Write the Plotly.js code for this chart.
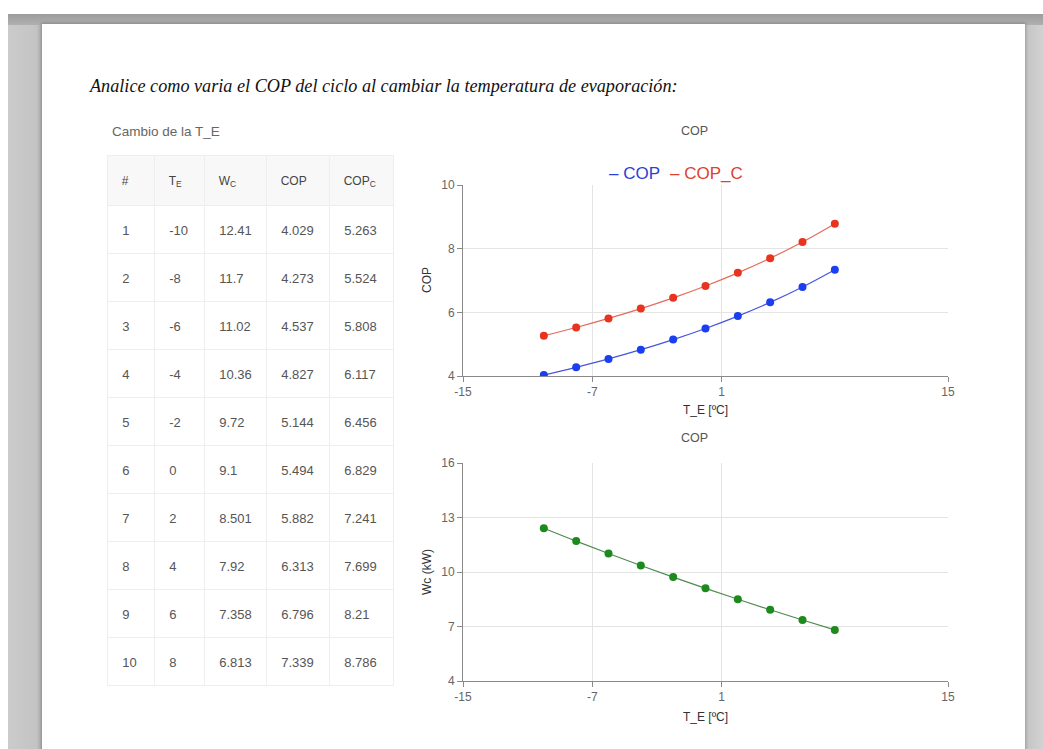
<!DOCTYPE html>
<html>
<head>
<meta charset="utf-8">
<script src="https://cdn.plot.ly/plotly-3.0.1.min.js"></script>
<style>
html,body{margin:0;padding:0;background:#fff;width:1043px;height:749px;overflow:hidden;}
#gray{position:absolute;left:8px;top:14px;width:1035px;height:735px;background:linear-gradient(to right,#cbcbcb 0px,#c4c4c4 28px,#b2b2b2 34px,#c4c4c4 1017px,#d2d2d2 1035px);}
#topband{position:absolute;left:8px;top:14px;width:1035px;height:11px;background:linear-gradient(to bottom,#9c9c9c,#b0b0b0);}
#page{position:absolute;left:42px;top:24px;width:983px;height:725px;background:#fff;box-shadow:0 0 3px 1px rgba(0,0,0,0.22);}
#chart{position:absolute;left:0;top:0;width:1043px;height:749px;}
</style>
</head>
<body>
<div id="gray"></div>
<div id="topband"></div>
<div id="page"></div>
<div id="chart"></div>
<script>
// ---- data ----
const rowNumbers = [1, 2, 3, 4, 5, 6, 7, 8, 9, 10];
const tempEvap = [-10, -8, -6, -4, -2, 0, 2, 4, 6, 8];
const workComp = [12.41, 11.7, 11.02, 10.36, 9.72, 9.1, 8.501, 7.92, 7.358, 6.813];
const copValues = [4.029, 4.273, 4.537, 4.827, 5.144, 5.494, 5.882, 6.313, 6.796, 7.339];
const copCarnot = [5.263, 5.524, 5.808, 6.117, 6.456, 6.829, 7.241, 7.699, 8.21, 8.786];
const tableHeaders = ['#', 'T<sub>E</sub>', 'W<sub>C</sub>', 'COP', 'COP<sub>C</sub>'];
const xTicks = [-15, -7, 1, 15];
const xTickLabels = ['-15', '-7', '1', '15'];
const yTicksCop = [4, 6, 8, 10];
const yTicksWc = [4, 7, 10, 13, 16];

// ---- layout helpers ----
const W = 1043, H = 749;
const px = x => x / W;
const py = y => 1 - y / H;
const FONT = 'Liberation Sans, Arial, sans-serif';
// a tiny blank first line pushes the text down so it sits in the middle of the tall cells
const cellFmt = s => "<span style='font-size:5px'>\u00a0</span><br>\u00a0\u00a0" + String(s);
const headFmt = s => "<span style='font-size:7px'>\u00a0</span><br>\u00a0\u00a0" + String(s);

const tableTrace = {
  type: 'table',
  domain: {x: [px(107), px(393)], y: [py(700), py(155)]},
  columnwidth: [47, 50, 62, 63, 64],
  header: {
    values: tableHeaders.map(headFmt),
    align: 'left',
    height: 50,
    fill: {color: '#f8f8f8'},
    line: {color: '#eeeeee', width: 1},
    font: {family: FONT, size: 12, color: '#444'}
  },
  cells: {
    values: [rowNumbers.map(cellFmt), tempEvap.map(cellFmt), workComp.map(cellFmt), copValues.map(cellFmt), copCarnot.map(cellFmt)],
    align: 'left',
    height: 48,
    fill: {color: '#ffffff'},
    line: {color: '#eeeeee', width: 1},
    font: {family: FONT, size: 13, color: '#555'}
  }
};

const copTrace = {
  type: 'scatter', mode: 'lines+markers', name: 'COP',
  x: tempEvap, y: copValues, xaxis: 'x', yaxis: 'y',
  line: {color: '#4656dc', width: 1.2, shape: 'spline'},
  marker: {color: '#1b3ef0', size: 8}
};
const copCTrace = {
  type: 'scatter', mode: 'lines+markers', name: 'COP_C',
  x: tempEvap, y: copCarnot, xaxis: 'x', yaxis: 'y',
  line: {color: '#e46a5c', width: 1.2, shape: 'spline'},
  marker: {color: '#e8341f', size: 8}
};
const wcTrace = {
  type: 'scatter', mode: 'lines+markers', name: 'Wc',
  x: tempEvap, y: workComp, xaxis: 'x2', yaxis: 'y2',
  line: {color: '#4f8a4f', width: 1.2, shape: 'spline'},
  marker: {color: '#1c8a1c', size: 8}
};

const xCommon = {
  range: [-15, 15], tickmode: 'array', tickvals: xTicks, ticktext: xTickLabels,
  showgrid: true, gridcolor: '#e4e4e4', zeroline: false,
  showline: true, linecolor: '#8a8a8a', linewidth: 1,
  ticks: 'outside', ticklen: 5, tickcolor: '#8a8a8a',
  tickfont: {family: FONT, size: 12, color: '#666'}
};
const yCommon = {
  showgrid: true, gridcolor: '#e4e4e4', zeroline: false,
  showline: true, linecolor: '#8a8a8a', linewidth: 1,
  ticks: 'outside', ticklen: 5, tickcolor: '#8a8a8a',
  tickfont: {family: FONT, size: 12, color: '#666'}
};

const ann = (text, x, y, opts) => Object.assign({
  text: text, x: px(x), y: py(y), xref: 'paper', yref: 'paper',
  showarrow: false, xanchor: 'center', yanchor: 'middle',
  font: {family: FONT, size: 12, color: '#555'}
}, opts || {});

const layout = {
  width: W, height: H, autosize: false,
  margin: {l: 0, r: 0, t: 0, b: 0, pad: 0},
  paper_bgcolor: 'rgba(0,0,0,0)', plot_bgcolor: 'rgba(0,0,0,0)',
  showlegend: false,
  font: {family: FONT},
  xaxis: Object.assign({}, xCommon, {domain: [px(463), px(948)], anchor: 'y'}),
  yaxis: Object.assign({}, yCommon, {domain: [py(376), py(185)], range: [4, 10], tickmode: 'array', tickvals: yTicksCop, anchor: 'x'}),
  xaxis2: Object.assign({}, xCommon, {domain: [px(463), px(948)], anchor: 'y2'}),
  yaxis2: Object.assign({}, yCommon, {domain: [py(681), py(463)], range: [4, 16], tickmode: 'array', tickvals: yTicksWc, anchor: 'x2'}),
  annotations: [
    ann('Analice como varia el COP del ciclo al cambiar la temperatura de evaporación:', 87, 86,
        {xanchor: 'left', font: {family: 'Liberation Serif, Times New Roman, serif', size: 18.2, color: '#111', style: 'italic'}}),
    ann('Cambio de la T_E', 110, 131, {xanchor: 'left', font: {family: FONT, size: 13.5, color: '#666'}}),
    ann('COP', 694, 131, {font: {family: FONT, size: 12.5, color: '#555'}}),
    ann('– COP', 634, 173, {font: {family: FONT, size: 17, color: '#2a3fd6'}}),
    ann('– COP_C', 706, 173, {font: {family: FONT, size: 17, color: '#e0402e'}}),
    ann('T_E [ºC]', 705, 410, {font: {family: FONT, size: 12, color: '#333'}}),
    ann('COP', 427, 280, {textangle: -90, font: {family: FONT, size: 12, color: '#333'}}),
    ann('COP', 694, 438, {font: {family: FONT, size: 12.5, color: '#555'}}),
    ann('T_E [ºC]', 705, 717, {font: {family: FONT, size: 12, color: '#333'}}),
    ann('Wc (kW)', 427, 572, {textangle: -90, font: {family: FONT, size: 12, color: '#333'}})
  ]
};

Plotly.newPlot('chart', [tableTrace, copTrace, copCTrace, wcTrace], layout, {displayModeBar: false, staticPlot: true});
</script>
</body>
</html>
